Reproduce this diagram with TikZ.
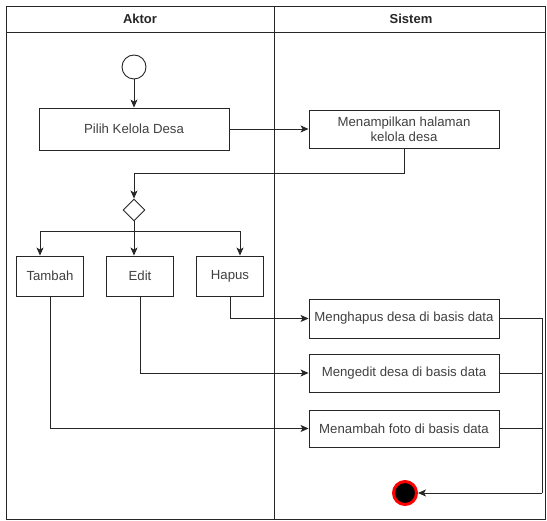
\documentclass[tikz,border=0pt]{standalone}
\usepackage{fontspec}
\setmainfont{Liberation Sans}
\usetikzlibrary{shapes.geometric,positioning,arrows.meta}

\begin{document}
\begin{tikzpicture}
  [
    x=1pt, y=-1pt,
    act/.style={draw, rectangle, line width=0.9pt, draw=black!85, inner sep=2pt, align=center, text=black!75, font=\fontsize{13.2}{15}\selectfont},
    begin/.style={draw, circle, line width=0.9pt, draw=black!85, minimum size=24pt, inner sep=0pt},
    choice/.style={draw, diamond, line width=0.9pt, draw=black!85, minimum width=22pt, minimum height=22pt, inner sep=0pt},
    finish/.style={circle, fill=black, draw=red, line width=3pt, minimum size=23pt, inner sep=0pt},
    head/.style={font=\bfseries\fontsize{13}{15}\selectfont, text=black!85},
    flow/.style={-{Stealth[length=8pt,width=7pt,inset=2pt]}, line width=0.9pt, draw=black!85},
    link/.style={line width=0.9pt, draw=black!85},
  ]
  \useasboundingbox (0,0) rectangle (547,521);

  % swimlanes
  \draw [link] (6,6) rectangle (545,519);
  \draw [link] (6,32) -- (545,32);
  \draw [link] (274,6) -- (274,519);
  \node (aktor) [head] at (140,19) {Aktor};
  \node (sistem) [head] at (411,19) {Sistem};

  % aktor
  \node (mulai) [begin] at (134,67) {};
  \node (pilih) [act, minimum width=190pt, minimum height=42pt] at (134,129) {Pilih Kelola Desa};
  \node (pilihan) [choice] at (134,210) {};
  \node (tambah) [act, minimum width=67pt, minimum height=40pt] at (50,276) {Tambah};
  \node (edit) [act, minimum width=67pt, minimum height=40pt] at (140,276) {Edit};
  \node (hapus) [act, minimum width=67pt, minimum height=40pt] at (230,276) {Hapus};

  % sistem
  \node (tampil) [act, minimum width=190pt, minimum height=38pt] at (404,129) {Menampilkan halaman\\kelola desa};
  \node (hapusdb) [act, minimum width=190pt, minimum height=39pt] at (404,318.5) {Menghapus desa di basis data};
  \node (editdb) [act, minimum width=190pt, minimum height=38pt] at (404,373) {Mengedit desa di basis data};
  \node (tambahdb) [act, minimum width=190pt, minimum height=37pt] at (404,428.5) {Menambah foto di basis data};
  \node (akhir) [finish] at (405,493) {};

  \coordinate (cabang) at (134,231);
  \coordinate (gabung) at (542,493);

  \draw [flow] (mulai) -- (pilih);
  \draw [flow] (pilih) -- (tampil);
  \draw [flow] (tampil.south) -- ++(0,25) -| (pilihan.north);
  \draw [link] (pilihan.south) -- (cabang);
  \draw [flow] (cabang) -| ([xshift=-10pt]tambah.north);
  \draw [flow] (cabang) -- (cabang |- edit.north);
  \draw [flow] (cabang) -| ([xshift=10pt]hapus.north);

  \draw [flow] (hapus.south) |- (hapusdb.west);
  \draw [flow] (edit.south) |- (editdb.west);
  \draw [flow] (tambah.south) |- (tambahdb.west);

  \draw [link] (hapusdb.east) -| (gabung);
  \draw [link] (editdb.east) -- (editdb.east -| gabung);
  \draw [link] (tambahdb.east) -- (tambahdb.east -| gabung);
  \draw [flow] (gabung) -- (akhir);
\end{tikzpicture}
\end{document}
